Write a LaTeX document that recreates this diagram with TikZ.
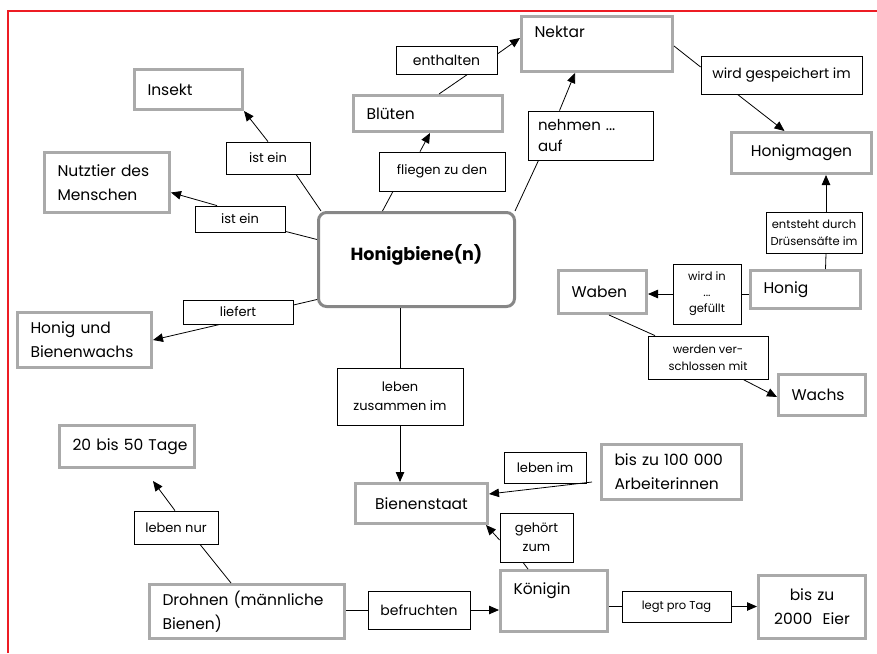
\documentclass[tikz,border=0pt]{standalone}
\usepackage{fontspec}
\setmainfont{Poppins}
\usetikzlibrary{arrows.meta}
\definecolor{framered}{RGB}{237,28,36}
\definecolor{boxgray}{RGB}{170,170,170}
\definecolor{hubgray}{RGB}{135,135,135}
\newcommand{\cfont}{\fontsize{15.5}{24}\selectfont}
\newcommand{\mfont}{\fontsize{14}{20}\selectfont}
\newcommand{\lfont}{\fontsize{13}{19}\selectfont}
\newcommand{\sfont}{\fontsize{11.5}{17}\selectfont}
\newcommand{\hfont}{\fontsize{17.5}{20}\selectfont\bfseries}

\begin{document}
\begin{tikzpicture}[x=1pt, y=-1pt,
    concept/.style={rectangle, draw=boxgray, line width=3pt, inner xsep=13pt, inner ysep=0pt,
                    align=left, font=\cfont},
    hub/.style={rectangle, rounded corners=8pt, draw=hubgray, line width=3pt, align=center,
                minimum width=196pt, minimum height=94pt, font=\hfont},
    link/.style={rectangle, draw=black, line width=0.8pt, inner sep=0pt, align=center, font=\sfont},
    conn/.style={line width=0.8pt},
    arrow/.style={conn, -{Triangle[length=10pt, width=8.5pt]}}
]
    \useasboundingbox (0,0) rectangle (877,653);
    \draw[framered, line width=1.2pt] (8,653) -- (8,11) -- (877,11);

    % concepts
    \node[hub] (biene) at (416.5,259.5) {Honigbiene(n)\\[-6pt]~};
    \node[concept, text width=82pt, minimum height=40pt] (insekt) at (188.5,89.5) {Insekt};
    \node[concept, text width=99pt, minimum height=60pt] (nutztier) at (107,182.5) {Nutztier des\\Menschen};
    \node[concept, text width=123pt, minimum height=36pt] (blueten) at (428,113.5) {Blüten};
    \node[concept, text width=125pt, minimum height=55pt] (nektar) at (597,44) {Nektar\\~};
    \node[concept, text width=114pt, minimum height=41pt, align=center] (honigmagen) at (801.5,153) {Honigmagen};
    \node[concept, text width=84pt, minimum height=38pt] (honig) at (805.5,289.5) {Honig};
    \node[concept, text width=62pt, minimum height=43pt] (waben) at (602.5,292) {Waben};
    \node[concept, text width=61pt, minimum height=41pt] (wachs) at (822,395) {Wachs};
    \node[concept, text width=108pt, minimum height=55pt] (honigwachs) at (84.5,340) {Honig und\\Bienenwachs};
    \node[concept, text width=109pt, minimum height=42pt] (tage) at (127,446.5) {20~bis~50~Tage};
    \node[concept, text width=169pt, minimum height=54pt] (drohnen) at (247,611.5) {Drohnen (männliche\\Bienen)};
    \node[concept, text width=106pt, minimum height=40pt, align=center] (staat) at (421.5,503.5) {Bienenstaat};
    \node[concept, text width=81pt, minimum height=61pt] (koenigin) at (554,601) {Königin\\~};
    \node[concept, text width=114pt, minimum height=55pt] (arbeiter) at (671.5,472) {bis zu 100~000\\Arbeiterinnen};
    \node[concept, text width=81pt, minimum height=63pt, align=center] (eier) at (812,607) {bis zu\\2000~~Eier};

    % link labels
    \node[link, minimum width=84pt, minimum height=32pt, font=\lfont] (istein1) at (268,158) {ist ein};
    \node[link, minimum width=90pt, minimum height=26pt, font=\lfont] (istein2) at (240,219) {ist ein};
    \node[link, minimum width=110pt, minimum height=24pt, font=\lfont] (liefert) at (238,312) {liefert};
    \node[link, minimum width=126pt, minimum height=39pt, font=\lfont] (fliegen) at (442,171.5) {fliegen zu den};
    \node[link, minimum width=101pt, minimum height=28pt, font=\mfont] (enthalten) at (446.5,60) {enthalten};
    \node[link, minimum width=125pt, minimum height=49pt, text width=105pt, inner xsep=10pt,
          align=left, font=\fontsize{15}{21}\selectfont] (nehmen) at (590.5,135.5) {nehmen ...\\auf};
    \node[link, minimum width=161pt, minimum height=38pt, font=\mfont] (gespeichert) at (781.5,75) {wird gespeichert im};
    \node[link, minimum width=96pt, minimum height=41pt] (entsteht) at (814,232.5) {entsteht durch\\Drüsensäfte im};
    \node[link, minimum width=68pt, minimum height=60pt, font=\fontsize{11.5}{16}\selectfont] (wirdin) at (707,294) {wird in\\...\\gefüllt};
    \node[link, minimum width=120pt, minimum height=43pt] (verschlossen) at (708,357.5) {werden ver-\\schlossen mit};
    \node[link, minimum width=126pt, minimum height=57pt, font=\lfont] (zusammen) at (400,396.5) {leben\\zusammen im};
    \node[link, minimum width=82pt, minimum height=31pt, font=\lfont] (lebenim) at (545,467.5) {leben im};
    \node[link, minimum width=73pt, minimum height=49pt, font=\lfont] (gehoert) at (536.5,537.5) {gehört\\zum};
    \node[link, minimum width=102pt, minimum height=38pt, font=\mfont] (befruchten) at (419,610) {befruchten};
    \node[link, minimum width=109pt, minimum height=31pt] (legt) at (676.5,606.5) {legt pro Tag};
    \node[link, minimum width=84pt, minimum height=33pt, font=\lfont] (lebennur) at (176,527.5) {leben nur};

    % connectors
    \draw[conn] ([xshift=4pt]biene.north west) -- ([xshift=28pt]istein1.south);
    \draw[arrow] (istein1.north) -- (insekt.south east);
    \draw[conn] ([yshift=20pt]biene.west) -- ([yshift=1pt]istein2.south east);
    \draw[arrow] ([xshift=-23pt]istein2.north) -- ([yshift=-10pt]nutztier.east);
    \draw[conn] ([yshift=-40pt]biene.west) -- ([yshift=7pt]liefert.east);
    \draw[arrow] ([xshift=-18pt]liefert.south) -- (honigwachs.east);
    \draw[conn] ([xshift=-34pt]biene.north) -- ([xshift=-49pt]fliegen.south);
    \draw[arrow] ([xshift=-22pt]fliegen.north) -- ([xshift=2pt]blueten.south);
    \draw[conn] ([xshift=11pt]blueten.north) -- ([xshift=21pt]enthalten.south);
    \draw[arrow] ([yshift=6pt]enthalten.east) -- ([yshift=6pt]nektar.west);
    \draw[conn] ([xshift=-1pt]biene.north east) -- ([xshift=-52pt]nehmen.south);
    \draw[arrow] ([xshift=-31pt]nehmen.north) -- ([xshift=-22pt]nektar.south);
    \draw[conn] ([yshift=-2pt]nektar.east) -- ([yshift=8pt]gespeichert.west);
    \draw[arrow] ([xshift=-44pt]gespeichert.south) -- ([xshift=-17pt]honigmagen.north);
    \draw[conn] ([xshift=20pt]honig.north) -- ([xshift=12pt]entsteht.south);
    \draw[arrow] ([xshift=12pt]entsteht.north) -- ([xshift=24.5pt]honigmagen.south);
    \draw[conn] (honig.west |- wirdin) -- (wirdin.east);
    \draw[arrow] (wirdin.west) -- (wirdin.west -| waben.east);
    \draw[conn] ([xshift=6.5pt]waben.south) -- ([xshift=-53pt]verschlossen.north);
    \draw[arrow] ([xshift=35pt]verschlossen.south) -- ([yshift=-2pt]wachs.west);
    \draw[conn] (zusammen.north |- biene.south) -- (zusammen.north);
    \draw[arrow] (zusammen.south) -- (zusammen.south |- staat.north);
    \draw[arrow] ([xshift=-8pt, yshift=-10pt]arbeiter.west) -- ([yshift=9.5pt]staat.east);
    \draw[conn] ([xshift=-26pt]koenigin.north) -- ([xshift=-13.5pt]gehoert.south);
    \draw[arrow] ([yshift=-2.5pt]gehoert.west) -- ([xshift=-3pt]staat.south east);
    \draw[conn] (drohnen.east |- befruchten) -- (befruchten.west);
    \draw[arrow] (befruchten.east) -- (befruchten.east -| koenigin.west);
    \draw[conn] (koenigin.east |- legt) -- (legt.west);
    \draw[arrow] (legt.east) -- (legt.east -| eier.west);
    \draw[conn] ([xshift=-16pt]drohnen.north) -- ([xshift=24pt]lebennur.south);
    \draw[arrow] ([xshift=-1pt]lebennur.north) -- ([xshift=26pt, yshift=-12pt]tage.south);
\end{tikzpicture}
\end{document}
